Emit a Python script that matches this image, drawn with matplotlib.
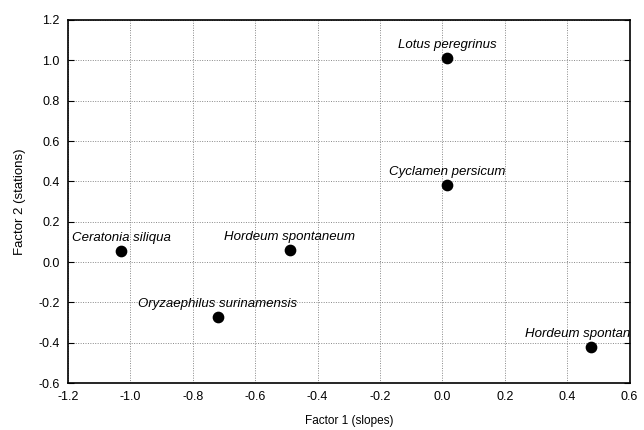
import matplotlib
matplotlib.use("Agg")
import matplotlib.pyplot as plt

species = ["Lotus peregrinus", "Cyclamen persicum", "Ceratonia siliqua",
           "Hordeum spontaneum", "Oryzaephilus surinamensis", "Hordeum spontaneum"]
factor1 = [0.015, 0.015, -1.03, -0.49, -0.72, 0.475]
factor2 = [1.01, 0.38, 0.055, 0.06, -0.27, -0.42]

xticks = [-1.2, -1.0, -0.8, -0.6, -0.4, -0.2, 0.0, 0.2, 0.4, 0.6]
yticks = [-0.6, -0.4, -0.2, 0.0, 0.2, 0.4, 0.6, 0.8, 1.0, 1.2]

plt.rcParams['font.family'] = ['Liberation Sans', 'DejaVu Sans']

fig = plt.figure(figsize=(6.44, 4.30), dpi=100)
ax = fig.add_axes([0.1056, 0.109, 0.872, 0.8445])
ax.scatter(factor1, factor2, s=55, color='black', zorder=3)
for name, x, y in zip(species, factor1, factor2):
    ax.annotate(name, (x, y), xytext=(0, 5), textcoords='offset points',
                ha='center', va='bottom', fontsize=9.5, fontstyle='italic',
                annotation_clip=False, clip_on=True)

ax.set_xlim(-1.2, 0.6)
ax.set_ylim(-0.6, 1.2)
ax.set_xticks(xticks)
ax.set_yticks(yticks)
ax.set_xticklabels([f"{v:.1f}" for v in xticks])
ax.set_yticklabels([f"{v:.1f}" for v in yticks])
ax.grid(True, linestyle=(0, (1, 1.5)), color='#888888', linewidth=0.7)
ax.tick_params(direction='in', length=4, labelsize=9, right=True, top=False, bottom=False)
ax.tick_params(axis='y', pad=6)
ax.tick_params(axis='x', pad=6)
for s in ax.spines.values():
    s.set_linewidth(1.2)
ax.set_xlabel("Factor 1 (slopes)", fontsize=8.5, labelpad=8)
ax.set_ylabel("Factor 2 (stations)", fontsize=9.5, labelpad=9)

fig.savefig("out.png", dpi=100)
